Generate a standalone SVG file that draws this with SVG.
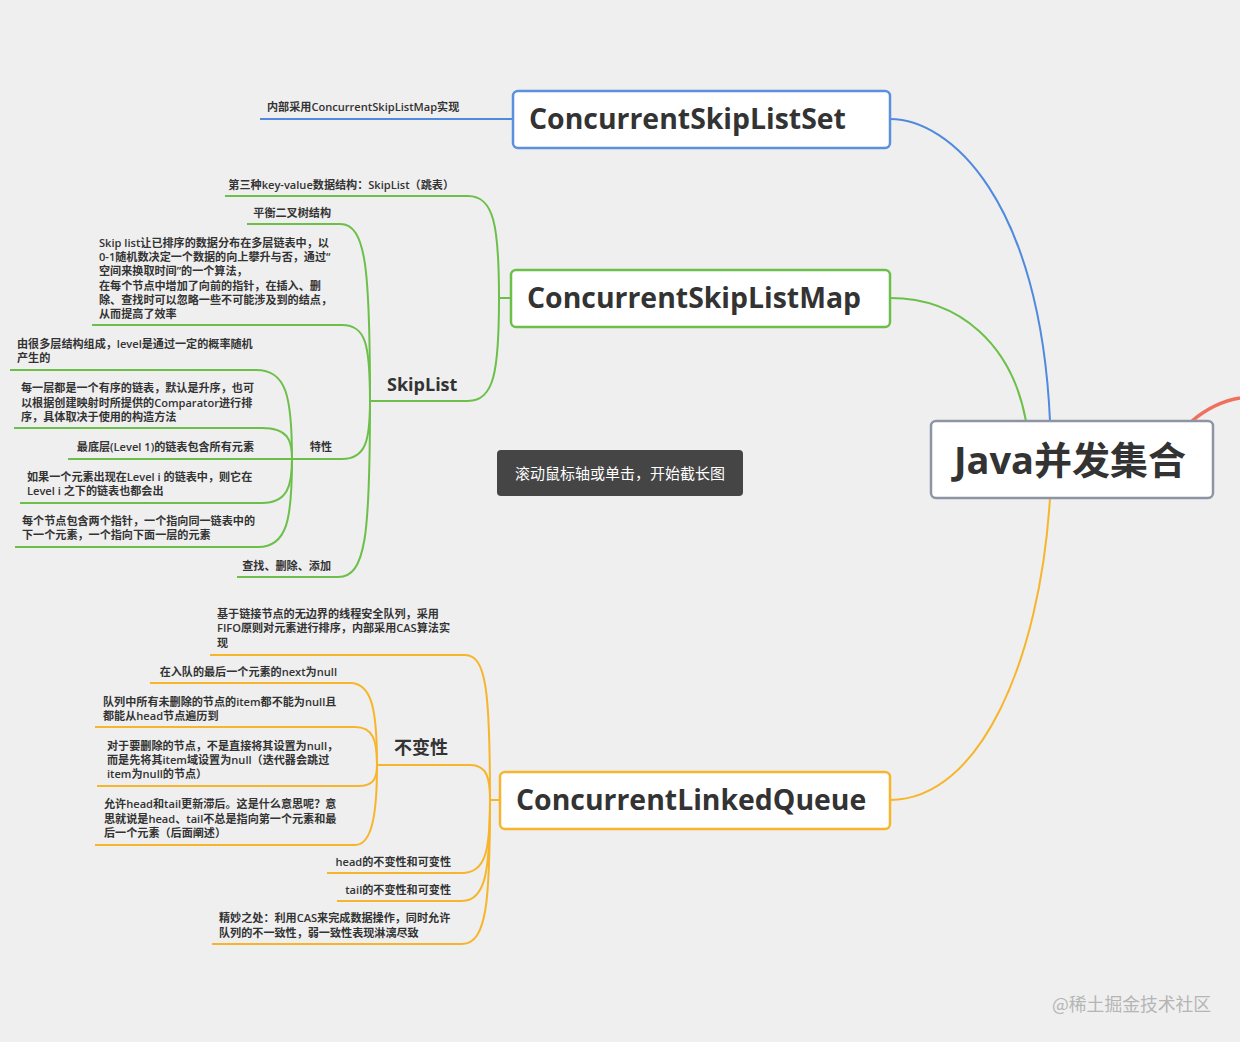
<svg xmlns="http://www.w3.org/2000/svg" width="1240" height="1042" viewBox="0 0 1240 1042">
<style>
.t{font-family:"Open Sans","Noto Sans CJK SC",sans-serif;font-size:11.1px;fill:#333;font-weight:600}
.h{font-family:"Open Sans","Noto Sans CJK SC",sans-serif;font-size:28.4px;fill:#333;font-weight:700}
.s{font-family:"Open Sans","Noto Sans CJK SC",sans-serif;font-size:18px;fill:#333;font-weight:700}
.m{font-family:"Open Sans","Noto Sans CJK SC",sans-serif;font-size:38px;fill:#333;font-weight:700}
.e{text-anchor:end}
.g{stroke:#6cc04a;fill:none;stroke-width:2}
.b{stroke:#4f8ade;fill:none;stroke-width:2}
.o{stroke:#f7b52c;fill:none;stroke-width:2}
.box{fill:#fff;stroke-width:2.5}
</style>
<rect width="1240" height="1042" fill="#efefef"/>
<g id="connectors">
<path d="M890,119 C950,119 1040,200 1050,421" class="b" stroke-width="4"/>
<path d="M890,298 C960,298 1012,345 1026,421" class="g" stroke-width="4"/>
<path d="M1050,498 C1040,660 980,800 890,800" class="o" stroke-width="4"/>
<path d="M1192,421 C1205,410 1222,401 1240,398" fill="none" stroke="#f07060" stroke-width="3.5"/>
<path d="M260,119 H513" class="b"/>
<path d="M499,298 H511" class="g"/>
<path d="M225,196 H468 C494,196 499,226 499,298" class="g"/>
<path d="M370,401 H468 C494,401 499,372 499,298" class="g"/>
<path d="M247,224 H340 C366,224 370,268 370,401" class="g"/>
<path d="M92,325 H342 C366,325 370,345 370,401" class="g"/>
<path d="M292,459 H342 C366,459 370,440 370,401" class="g"/>
<path d="M237,577 H338 C366,577 370,535 370,401" class="g"/>
<path d="M10,370 H256 C286,370 292,395 292,459" class="g"/>
<path d="M14,428 H262 C288,428 292,440 292,459" class="g"/>
<path d="M68,459 H292" class="g"/>
<path d="M20,503 H262 C288,503 292,485 292,459" class="g"/>
<path d="M15,547 H258 C287,547 292,520 292,459" class="g"/>
<path d="M490,800 H500" class="o"/>
<path d="M210,655 H465 C486,655 490,690 490,800" class="o"/>
<path d="M377,765 H470 C487,765 490,778 490,800" class="o"/>
<path d="M327,873 H462 C486,873 490,850 490,800" class="o"/>
<path d="M337,901 H462 C486,901 490,870 490,800" class="o"/>
<path d="M212,944 H462 C487,944 490,900 490,800" class="o"/>
<path d="M150,683 H350 C372,683 377,710 377,765" class="o"/>
<path d="M95,727 H355 C373,727 377,740 377,765" class="o"/>
<path d="M97,786 H358 C374,786 377,778 377,765" class="o"/>
<path d="M95,845 H355 C373,845 377,810 377,765" class="o"/>
</g>
<g id="root">
<rect x="931" y="421" width="282" height="77" rx="5" class="box" stroke="#8d95a5"/>
<text x="1070" y="474" class="m" text-anchor="middle">Java并发集合</text>
</g>
<g id="set">
<rect x="513" y="91" width="377" height="57" rx="5" class="box" stroke="#5b8fe0"/>
<text x="529" y="129" class="h">ConcurrentSkipListSet</text>
<text x="267" y="111" class="t">内部采用ConcurrentSkipListMap实现</text>
</g>
<g id="map">
<rect x="511" y="270" width="379" height="57" rx="5" class="box" stroke="#6cc04a"/>
<text x="527" y="308" class="h">ConcurrentSkipListMap</text>
</g>
<g id="map-children">
<text x="454" y="189" class="t e">第三种key-value数据结构：SkipList（跳表）</text>
<text x="387" y="391" class="s">SkipList</text>
<text x="331" y="217" class="t e">平衡二叉树结构</text>
<text class="t"><tspan x="99" y="247">Skip list让已排序的数据分布在多层链表中，以</tspan><tspan x="99" y="261">0-1随机数决定一个数据的向上攀升与否，通过“</tspan><tspan x="99" y="275">空间来换取时间”的一个算法，</tspan><tspan x="99" y="290">在每个节点中增加了向前的指针，在插入、删</tspan><tspan x="99" y="304">除、查找时可以忽略一些不可能涉及到的结点，</tspan><tspan x="99" y="318">从而提高了效率</tspan></text>
<text x="332" y="451" class="t e">特性</text>
<text x="331" y="570" class="t e">查找、删除、添加</text>
<text class="t"><tspan x="17" y="348">由很多层结构组成，level是通过一定的概率随机</tspan><tspan x="17" y="362">产生的</tspan></text>
<text class="t"><tspan x="21" y="392">每一层都是一个有序的链表，默认是升序，也可</tspan><tspan x="21" y="407">以根据创建映射时所提供的Comparator进行排</tspan><tspan x="21" y="421">序，具体取决于使用的构造方法</tspan></text>
<text x="254" y="451" class="t e">最底层(Level 1)的链表包含所有元素</text>
<text class="t"><tspan x="27" y="481">如果一个元素出现在Level i 的链表中，则它在</tspan><tspan x="27" y="495">Level i 之下的链表也都会出</tspan></text>
<text class="t"><tspan x="22" y="525">每个节点包含两个指针，一个指向同一链表中的</tspan><tspan x="22" y="539">下一个元素，一个指向下面一层的元素</tspan></text>
</g>
<g id="queue">
<rect x="500" y="772" width="390" height="57" rx="5" class="box" stroke="#f7b52c"/>
<text x="516" y="810" class="h">ConcurrentLinkedQueue</text>
</g>
<g id="queue-children">
<text class="t"><tspan x="217" y="618">基于链接节点的无边界的线程安全队列，采用</tspan><tspan x="217" y="632">FIFO原则对元素进行排序，内部采用CAS算法实</tspan><tspan x="217" y="647">现</tspan></text>
<text x="394" y="754" class="s">不变性</text>
<text x="451" y="866" class="t e">head的不变性和可变性</text>
<text x="451" y="894" class="t e">tail的不变性和可变性</text>
<text class="t"><tspan x="219" y="922">精妙之处：利用CAS来完成数据操作，同时允许</tspan><tspan x="219" y="937">队列的不一致性，弱一致性表现淋漓尽致</tspan></text>
<text x="337" y="676" class="t e">在入队的最后一个元素的next为null</text>
<text class="t"><tspan x="103" y="706">队列中所有未删除的节点的item都不能为null且</tspan><tspan x="103" y="720">都能从head节点遍历到</tspan></text>
<text class="t"><tspan x="107" y="750">对于要删除的节点，不是直接将其设置为null，</tspan><tspan x="107" y="764">而是先将其item域设置为null（迭代器会跳过</tspan><tspan x="107" y="778">item为null的节点）</tspan></text>
<text class="t"><tspan x="104" y="808">允许head和tail更新滞后。这是什么意思呢？意</tspan><tspan x="104" y="823">思就说是head、tail不总是指向第一个元素和最</tspan><tspan x="104" y="837">后一个元素（后面阐述）</tspan></text>
</g>
<g id="tooltip">
<rect x="497" y="450" width="246" height="46" rx="4" fill="#454545"/>
<text x="620" y="479" text-anchor="middle" font-family="'Noto Sans CJK SC',sans-serif" font-size="15" fill="#fff">滚动鼠标轴或单击，开始截长图</text>
</g>
<text x="1052" y="1011" font-family="'Noto Sans CJK SC',sans-serif" font-size="17.8" fill="#b5b5b5">@稀土掘金技术社区</text>
</svg>
